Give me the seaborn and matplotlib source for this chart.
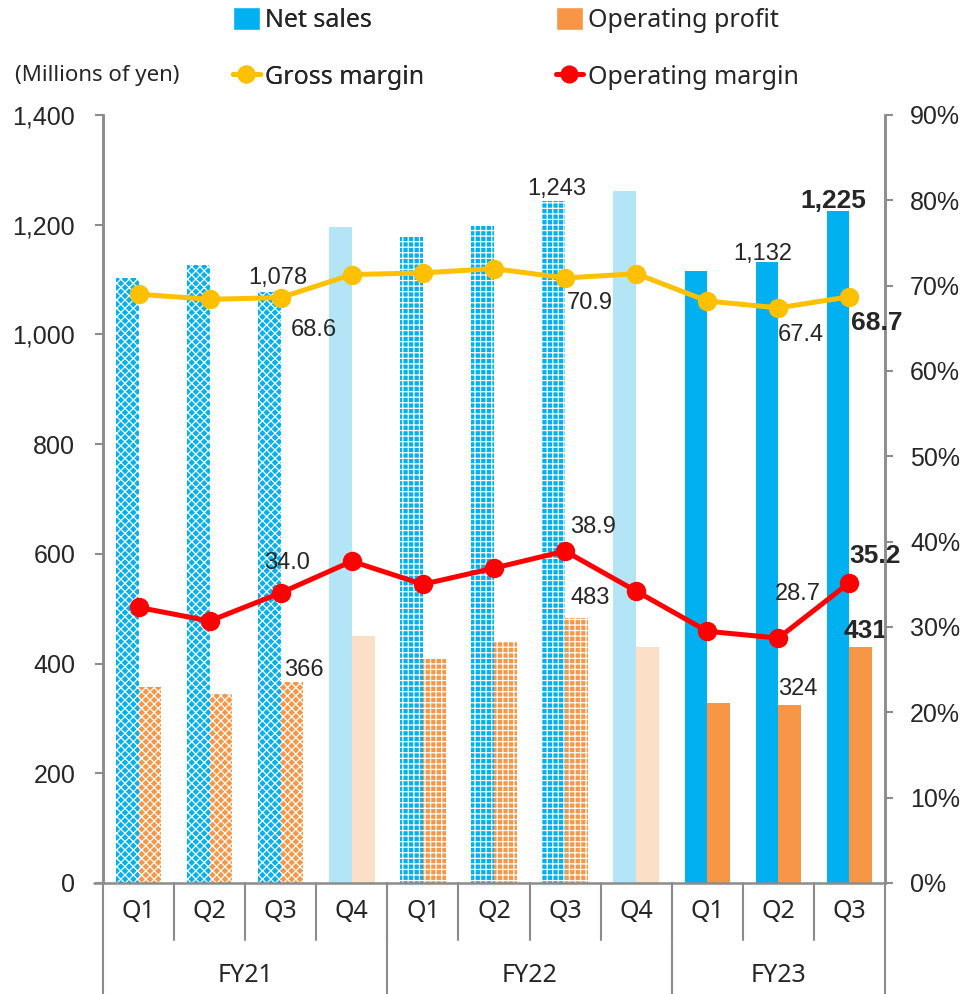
import pandas as pd
import matplotlib
matplotlib.use("Agg")
import matplotlib.pyplot as plt
import matplotlib.ticker as mticker
from matplotlib.patches import Patch
from matplotlib.lines import Line2D
import seaborn as sns

# Data
quarters = ["Q1", "Q2", "Q3", "Q4", "Q1", "Q2", "Q3", "Q4", "Q1", "Q2", "Q3"]
fiscal_years = ["FY21", "FY22", "FY23"]
fy_sizes = [4, 4, 3]
net_sales = [1103, 1127, 1078, 1196, 1178, 1198, 1243, 1261, 1116, 1132, 1225]
op_profit = [357, 345, 366, 450, 410, 441, 483, 430, 328, 324, 431]
gross_margin = [69.0, 68.4, 68.6, 71.3, 71.5, 72.0, 70.9, 71.4, 68.2, 67.4, 68.7]
op_margin = [32.3, 30.7, 34.0, 37.7, 35.0, 36.9, 38.9, 34.2, 29.5, 28.7, 35.2]
period_type = ["hatchA", "hatchA", "hatchA", "light",
               "hatchB", "hatchB", "hatchB", "light",
               "solid", "solid", "solid"]

BLUE = "#00B0F0"
ORANGE = "#F79646"
LIGHT_BLUE = "#B3E5F7"
LIGHT_ORANGE = "#FBDFC7"
GOLD = "#FFC000"
RED = "#FF0000"
GRAY = "#8C8C8C"

sns.set_style("white")
plt.rcParams["font.family"] = ["Liberation Sans", "DejaVu Sans"]
plt.rcParams["hatch.linewidth"] = 0.9
LABEL_FONT = ["Noto Sans", "DejaVu Sans"]

keys = [f"p{i}" for i in range(len(quarters))]
df = pd.DataFrame({
    "period": keys * 2,
    "value": net_sales + op_profit,
    "series": ["Net sales"] * len(keys) + ["Operating profit"] * len(keys),
})

fig = plt.figure(figsize=(9.66, 9.94), dpi=100)
ax = fig.add_axes([103 / 966, 111 / 994, 782 / 966, 768 / 994])

sns.barplot(data=df, x="period", y="value", hue="series", order=keys,
            palette=[BLUE, ORANGE], width=0.64, gap=0, legend=False,
            saturation=1, ax=ax)

# restyle bars per period
for cont, base, light in [(ax.containers[0], BLUE, LIGHT_BLUE),
                          (ax.containers[1], ORANGE, LIGHT_ORANGE)]:
    for bar, kind in zip(cont, period_type):
        bar.set_linewidth(0)
        if kind == "light":
            bar.set_facecolor(light)
        elif kind == "hatchA":
            bar.set_facecolor(base)
            bar.set_edgecolor("white")
            bar.set_hatch("xxxx")
        elif kind == "hatchB":
            bar.set_facecolor(base)
            bar.set_edgecolor("white")
            bar.set_hatch("+++")
        else:
            bar.set_facecolor(base)

ax.set_ylim(0, 1400)
ax.set_xlim(-0.5, len(quarters) - 0.5)
ax.set_yticks(range(0, 1401, 200))
ax.yaxis.set_major_formatter(mticker.FuncFormatter(lambda v, p: f"{int(v):,}"))
ax.set_xticks([])
ax.set_xlabel("")
ax.set_ylabel("")
ax.tick_params(axis="y", labelsize=18, length=6, width=1.5, color=GRAY,
               direction="out", left=True, pad=14)

# margins on secondary axis
ax2 = ax.twinx()
xs = list(range(len(quarters)))
sns.lineplot(x=xs, y=gross_margin, ax=ax2, color=GOLD, lw=3.6, marker="o",
             markersize=14, markeredgewidth=0)
sns.lineplot(x=xs, y=op_margin, ax=ax2, color=RED, lw=3.6, marker="o",
             markersize=14, markeredgewidth=0)
ax2.set_ylim(0, 90)
ax2.set_xlim(-0.5, len(quarters) - 0.5)
ax2.set_yticks(range(0, 91, 10))
ax2.yaxis.set_major_formatter(mticker.FuncFormatter(lambda v, p: f"{int(v)}%"))
ax2.tick_params(axis="y", labelsize=18, length=6, width=1.5, color=GRAY,
                direction="out", right=True, pad=12)
ax2.set_ylabel("")

for a in (ax, ax2):
    a.spines["top"].set_visible(False)
    for s in ("left", "right", "bottom"):
        a.spines[s].set_color(GRAY)
        a.spines[s].set_linewidth(1.8)
    a.spines["bottom"].set_visible(False)

# bottom line slightly beyond the left spine
trans = ax.get_xaxis_transform()
ax.plot([-0.63, len(quarters) - 0.5], [0, 0], transform=trans, color=GRAY,
        lw=1.8, clip_on=False, zorder=5)

# value labels: (series, index, text, dx, dy, bold)
bar_w = 0.32
bar_labels = [
    (0, 2, "1,078", 8, 8, False),
    (0, 6, "1,243", 3, 6, False),
    (0, 9, "1,132", -4, 2, False),
    (0, 10, "1,225", -5, 3, True),
    (1, 2, "366", 12, 6, False),
    (1, 6, "483", 14, 14, False),
    (1, 9, "324", 8, 10, False),
    (1, 10, "431", 5, 9, True),
]
for s, i, txt, dx, dy, bold in bar_labels:
    x = i - bar_w / 2 if s == 0 else i + bar_w / 2
    y = net_sales[i] if s == 0 else op_profit[i]
    ax.annotate(txt, (x, y), xytext=(dx, dy), textcoords="offset pixels",
                ha="center", va="baseline",
                fontsize=19 if bold else 17,
                fontweight="bold" if bold else "normal", zorder=10)

line_labels = [
    (gross_margin, 2, "68.6", 33, -32, False),
    (gross_margin, 6, "70.9", 25, -25, False),
    (gross_margin, 9, "67.4", 22, -27, False),
    (gross_margin, 10, "68.7", 27, -26, True),
    (op_margin, 2, "34.0", 6, 30, False),
    (op_margin, 6, "38.9", 28, 24, False),
    (op_margin, 9, "28.7", 20, 44, False),
    (op_margin, 10, "35.2", 26, 27, True),
]
for vals, i, txt, dx, dy, bold in line_labels:
    ax2.annotate(txt, (i, vals[i]), xytext=(dx, dy), textcoords="offset pixels",
                 ha="center", va="center",
                 fontsize=19 if bold else 17,
                 fontweight="bold" if bold else "normal", zorder=10)

# two-level category axis
q_bottom = -(940 - 883) / 768
fy_bottom = -(994 - 883) / 768
for i, q in enumerate(quarters):
    ax.text(i, -(912 - 883) / 768, q, transform=trans, ha="center",
            va="center", fontsize=18, family=LABEL_FONT)
for i in range(1, len(quarters)):
    ax.plot([i - 0.5, i - 0.5], [0, q_bottom], transform=trans, color=GRAY,
            lw=1.5, clip_on=False)
start = 0
edges = [start]
for n in fy_sizes:
    start += n
    edges.append(start)
for e in edges:
    ax.plot([e - 0.5, e - 0.5], [0, fy_bottom], transform=trans, color=GRAY,
            lw=1.5, clip_on=False)
for fy, a, b in zip(fiscal_years, edges[:-1], edges[1:]):
    ax.text((a + b - 1) / 2, -(975 - 883) / 768, fy, transform=trans,
            ha="center", va="center", fontsize=18, family=LABEL_FONT)

# legend and unit label
fig.text(15 / 966, 1 - 75 / 994, "(Millions of yen)", ha="left", va="center",
         fontsize=16, family=LABEL_FONT)
leg_font = {"family": LABEL_FONT, "size": 18}
h1 = [Patch(facecolor=BLUE), Line2D([], [], color=GOLD, lw=3.6, marker="o",
                                    markersize=12)]
h2 = [Patch(facecolor=ORANGE), Line2D([], [], color=RED, lw=3.6, marker="o",
                                      markersize=12)]
leg_kw = dict(loc="upper left", frameon=False, prop=leg_font,
              handlelength=1.1, handleheight=1.05, handletextpad=0.2,
              labelspacing=1.25, borderpad=0.0)
leg1 = fig.legend(h1, ["Net sales", "Gross margin"],
                  bbox_to_anchor=(220 / 966, 1.006), **leg_kw)
leg2 = fig.legend(h2, ["Operating profit", "Operating margin"],
                  bbox_to_anchor=(543 / 966, 1.006), **leg_kw)
fig.add_artist(leg1)

fig.savefig("out.png", dpi=100)
